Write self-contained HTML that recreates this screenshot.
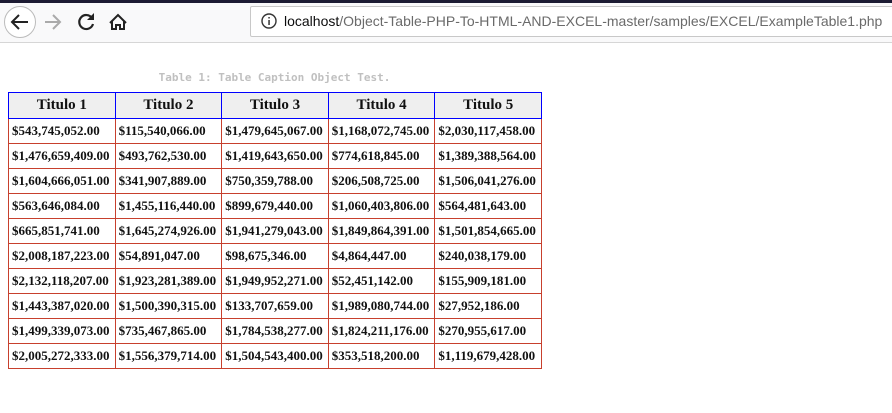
<!DOCTYPE html>
<html><head><meta charset="utf-8"><style>
html,body{margin:0;padding:0;width:892px;height:413px;overflow:hidden;background:#fff;font-family:"Liberation Sans",sans-serif}
#tabs{position:absolute;left:0;top:0;width:892px;height:3px;background:#1c1b33}
#toolbar{position:absolute;left:0;top:3px;width:892px;height:39px;background:#f9f9fa;border-bottom:1px solid #d6d6d6}
#url{position:absolute;left:250px;top:3px;width:650px;height:31px;background:#fff;border:1px solid #c8c8c8;border-radius:2px;box-sizing:border-box}
#url .txt{position:absolute;left:33px;top:6px;font-size:14px;color:#6a6a6a;white-space:nowrap}
#url .txt b{font-weight:normal;color:#0c0c0d}
#caption{position:absolute;left:8px;width:533px;top:71px;text-align:center;font:bold 11px "DejaVu Sans Mono",monospace;color:#c0c0c0}
table{position:absolute;left:8px;top:92px;border-collapse:collapse;width:534px}
th{background:#efefef;border:1px solid #0000ff;height:25px;font:bold 15px "Liberation Serif",serif;color:#111;padding:0;width:106px}
td{border:1px solid #c7402d;height:24px;font:bold 13px "Liberation Serif",serif;color:#111;padding:0 0 0 3px;white-space:nowrap}
</style></head><body>
<div id="tabs"></div>
<div id="toolbar">
<svg width="240" height="39" style="position:absolute;left:0;top:0">
<g><circle cx="20" cy="19" r="15.5" fill="#fff" stroke="#bbb"/><path d="M28 19H13M19 12l-7 7 7 7" fill="none" stroke="#222" stroke-width="2"/></g>
<g><path d="M45 19H59M53 12l7 7-7 7" fill="none" stroke="#aaa" stroke-width="2"/></g>
<g><path d="M92 15a7 7 0 1 0 1 6" fill="none" stroke="#222" stroke-width="2.2"/><path d="M94 10v7h-7z" fill="#222"/></g>
<g><path d="M110 20l8-8 8 8M112 18v8h4v-4h4v4h4v-8" fill="none" stroke="#222" stroke-width="2"/></g>
</svg>
<div id="url">
<svg width="20" height="20" style="position:absolute;left:9px;top:5px"><circle cx="9" cy="9" r="7" fill="none" stroke="#333" stroke-width="1.4"/><rect x="8.3" y="8" width="1.5" height="5" fill="#333"/><rect x="8.3" y="5" width="1.5" height="1.5" fill="#333"/></svg>
<span class="txt"><b>localhost</b>/Object-Table-PHP-To-HTML-AND-EXCEL-master/samples/EXCEL/ExampleTable1.php</span>
</div>
</div>
<div id="caption">Table 1: Table Caption Object Test.</div>
<table>
<tr><th>Titulo 1</th><th>Titulo 2</th><th>Titulo 3</th><th>Titulo 4</th><th>Titulo 5</th></tr>
<tr><td>$543,745,052.00</td><td>$115,540,066.00</td><td>$1,479,645,067.00</td><td>$1,168,072,745.00</td><td>$2,030,117,458.00</td></tr>
<tr><td>$1,476,659,409.00</td><td>$493,762,530.00</td><td>$1,419,643,650.00</td><td>$774,618,845.00</td><td>$1,389,388,564.00</td></tr>
<tr><td>$1,604,666,051.00</td><td>$341,907,889.00</td><td>$750,359,788.00</td><td>$206,508,725.00</td><td>$1,506,041,276.00</td></tr>
<tr><td>$563,646,084.00</td><td>$1,455,116,440.00</td><td>$899,679,440.00</td><td>$1,060,403,806.00</td><td>$564,481,643.00</td></tr>
<tr><td>$665,851,741.00</td><td>$1,645,274,926.00</td><td>$1,941,279,043.00</td><td>$1,849,864,391.00</td><td>$1,501,854,665.00</td></tr>
<tr><td>$2,008,187,223.00</td><td>$54,891,047.00</td><td>$98,675,346.00</td><td>$4,864,447.00</td><td>$240,038,179.00</td></tr>
<tr><td>$2,132,118,207.00</td><td>$1,923,281,389.00</td><td>$1,949,952,271.00</td><td>$52,451,142.00</td><td>$155,909,181.00</td></tr>
<tr><td>$1,443,387,020.00</td><td>$1,500,390,315.00</td><td>$133,707,659.00</td><td>$1,989,080,744.00</td><td>$27,952,186.00</td></tr>
<tr><td>$1,499,339,073.00</td><td>$735,467,865.00</td><td>$1,784,538,277.00</td><td>$1,824,211,176.00</td><td>$270,955,617.00</td></tr>
<tr><td>$2,005,272,333.00</td><td>$1,556,379,714.00</td><td>$1,504,543,400.00</td><td>$353,518,200.00</td><td>$1,119,679,428.00</td></tr>
</table>
</body></html>
